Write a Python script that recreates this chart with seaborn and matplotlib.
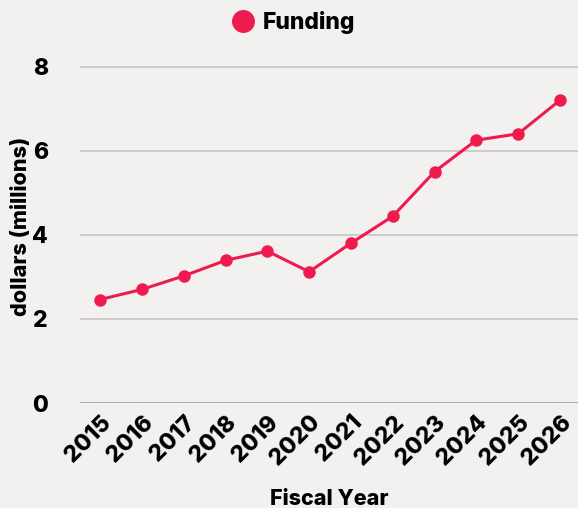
import matplotlib
matplotlib.use("Agg")
import matplotlib.pyplot as plt
import seaborn as sns
import pandas as pd
from matplotlib.lines import Line2D

years = [2015, 2016, 2017, 2018, 2019, 2020, 2021, 2022, 2023, 2024, 2025, 2026]
funding = [2.46, 2.70, 3.02, 3.39, 3.61, 3.12, 3.80, 4.44, 5.50, 6.25, 6.40, 7.20]
series_name = "Funding"
y_ticks = [0, 2, 4, 6, 8]

bg = "#F3F1EF"
red = "#EF1A4E"

sns.set_theme(style="white")
plt.rcParams['font.family'] = ['Inter', 'DejaVu Sans']
plt.rcParams['text.color'] = 'black'
plt.rcParams['axes.labelcolor'] = 'black'
plt.rcParams['xtick.color'] = 'black'
plt.rcParams['ytick.color'] = 'black'

W = 800

df = pd.DataFrame({"Fiscal Year": years, "value": funding, "series": series_name})

fig = plt.figure(figsize=(5.78, 5.08), dpi=100, facecolor=bg)
ax = fig.add_axes([80/578, 1-403/508, (578-80)/578, (403-50)/508])
ax.set_facecolor(bg)

sns.lineplot(data=df, x="Fiscal Year", y="value", hue="series", palette=[red],
             marker="o", markersize=9, markeredgewidth=0, linewidth=2.2, ax=ax, legend=False)

ax.set_xlim(2015 - 0.48, 2026 + 0.43)
ax.set_ylim(0, 8 * (403-50) / (403-66.5))
ax.set_yticks(y_ticks)
ax.set_xticks(years)
ax.set_xticklabels([str(y) for y in years], rotation=45, ha="right", rotation_mode="anchor",
                   fontsize=16.5, fontweight=W)
ax.set_yticklabels([str(t) for t in y_ticks], fontsize=16.5, fontweight=W)
ax.tick_params(axis="both", length=0)
ax.tick_params(axis="x", pad=6)
ax.tick_params(axis="y", pad=23)

for t in y_ticks:
    ax.axhline(t, color="#999999" if t == 0 else "#C4C2C0", linewidth=1.1, zorder=0)

for s in ax.spines.values():
    s.set_visible(False)
ax.grid(False)

ax.set_xlabel("Fiscal Year", fontsize=15.5, fontweight=W, labelpad=14)
ax.set_ylabel("dollars (millions)", fontsize=15.5, fontweight=W)
ax.yaxis.set_label_coords(-(80-31)/498, 0.5)

h = Line2D([], [], marker="o", color=red, linestyle="none", markersize=15.5)
fig.legend([h], [series_name], loc="center", bbox_to_anchor=(0.508, 1-23/508), frameon=False,
           prop={"size": 16.5, "weight": W}, handletextpad=0.42, handlelength=0.95)

fig.savefig("out.png", dpi=100, facecolor=bg)
